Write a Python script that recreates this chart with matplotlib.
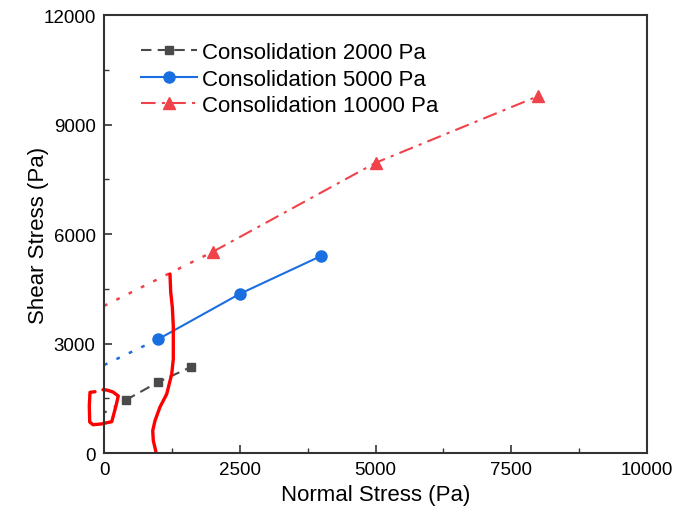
import matplotlib
matplotlib.use("Agg")
from matplotlib import pyplot as plt
from matplotlib.ticker import MultipleLocator

plt.rcParams['font.family'] = ['Liberation Sans', 'DejaVu Sans']

# measured points
x2000 = [400, 1000, 1600]
y2000 = [1450, 1945, 2355]
x5000 = [1000, 2500, 4000]
y5000 = [3120, 4360, 5400]
x10000 = [2000, 5000, 8000]
y10000 = [5510, 7950, 9780]

# extrapolated intercepts at zero normal stress
c2000 = 1100
c5000 = 2410
c10000 = 4030

labels = ["Consolidation 2000 Pa", "Consolidation 5000 Pa", "Consolidation 10000 Pa"]

# hand drawn red marks on the picture
markBracketX = [-166, -258, -271, -263, -203, -55, 142, 171, 221, 263, 166, 50, -20]
markBracketY = [1679, 1663, 1288, 849, 775, 795, 858, 1014, 1296, 1562, 1671, 1726, 1734]
markCurveX = [1215, 1228, 1258, 1276, 1276, 1247, 1155, 1031, 939, 897, 908, 958]
markCurveY = [4904, 4411, 4000, 3479, 2575, 2164, 1616, 1260, 885, 611, 337, 20]

cGray = '#4a4a4a'
cBlue = '#1a6fe0'
cRed = '#f0424a'

fig = plt.figure(figsize=(6.92, 5.10), dpi=100)
ax = fig.add_axes([0.1503, 0.1098, 0.7847, 0.8588])

ax.plot(x2000, y2000, ls=(0, (5, 3)), c=cGray, lw=1.5, marker='s', ms=6, label=labels[0])
ax.plot(x5000, y5000, ls='-', c=cBlue, lw=1.5, marker='o', ms=8, label=labels[1])
ax.plot(x10000, y10000, ls=(0, (7, 3, 1.5, 3)), c=cRed, lw=1.5, marker='^', ms=9, label=labels[2])

# dotted extension to the shear axis
ax.plot([0, x2000[0]], [c2000, y2000[0]], ls=(0, (1.5, 4)), c=cGray, lw=1.5)
ax.plot([0, x5000[0]], [c5000, y5000[0]], ls=(0, (1.5, 4)), c=cBlue, lw=1.8)
ax.plot([0, x10000[0]], [c10000, y10000[0]], ls=(0, (1.5, 4)), c=cRed, lw=1.8)

ax.plot(markBracketX, markBracketY, c='#ff0000', lw=2.4, clip_on=False, solid_capstyle='round')
ax.plot(markCurveX, markCurveY, c='#ff0000', lw=2.4, clip_on=False, solid_capstyle='round')

ax.set_xlim(0, 10000)
ax.set_ylim(0, 12000)
ax.xaxis.set_major_locator(MultipleLocator(2500))
ax.xaxis.set_minor_locator(MultipleLocator(1250))
ax.yaxis.set_major_locator(MultipleLocator(3000))
ax.yaxis.set_minor_locator(MultipleLocator(1500))
ax.tick_params(which='both', direction='in', top=False, right=False, labelsize=13.5, colors='#333333', labelcolor='black')
ax.tick_params(which='major', length=6, width=1.2, pad=6)
ax.tick_params(which='minor', length=3.5, width=1.0)
for s in ax.spines.values():
    s.set_color('#333333')
    s.set_linewidth(1.5)

ax.set_xlabel("Normal Stress (Pa)", fontsize=16, labelpad=4)
ax.set_ylabel("Shear Stress (Pa)", fontsize=16, labelpad=-4)

ax.legend(loc='upper left', bbox_to_anchor=(0.032, 0.984), frameon=False, fontsize=16,
          handlelength=2.5, labelspacing=0.25, handletextpad=0.25)

fig.savefig("out.png", dpi=100)
